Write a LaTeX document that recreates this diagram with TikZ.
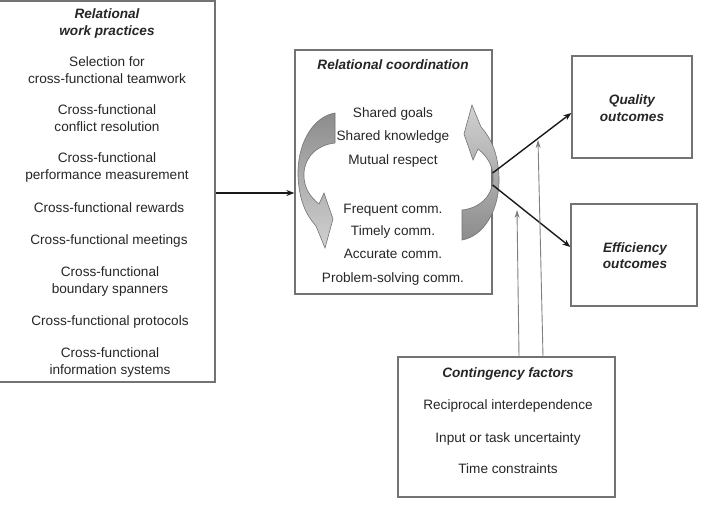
\documentclass[tikz,border=0pt]{standalone}
\usepackage{fontspec}
\setmainfont{Liberation Sans}
\usetikzlibrary{arrows.meta}
\begin{document}
\begin{tikzpicture}[x=1pt,y=-1pt,
  box/.style={draw=black!55, line width=1.3pt, rectangle, inner sep=0pt},
  txt/.style={anchor=base, inner sep=0pt, text=black!85, font=\fontsize{13.6}{17}\selectfont},
  ttl/.style={txt, font=\fontsize{13.6}{17}\selectfont\bfseries\itshape},
  arr/.style={line width=1.4pt, black!90, -{Stealth[length=8pt,width=6pt]}},
  thinarr/.style={line width=0.9pt, black!50, -{Stealth[length=8pt,width=5pt,fill=black!70]}},
  bentarrow/.style={draw=black!55, line width=0.6pt}]
\useasboundingbox (0,0) rectangle (705,512);
% boxes
\node[box, minimum width=222pt, minimum height=381pt] (lw) at (104,191.5) {};
\node[box, minimum width=197pt, minimum height=244pt] (rc) at (393.5,172) {};
\node[box, minimum width=120pt, minimum height=102pt] (qo) at (632,107) {};
\node[box, minimum width=126pt, minimum height=102pt] (eo) at (634,255) {};
\node[box, minimum width=217pt, minimum height=140pt] (cf) at (506.5,427) {};
% left box text
\node[ttl] (l0a) at (107,18) {Relational};
\node[ttl] (l0b) at (107,35) {work practices};
\node[txt] (l1a) at (107,66) {Selection for};
\node[txt] (l1b) at (107,83) {cross-functional teamwork};
\node[txt] (l2a) at (107,114) {Cross-functional};
\node[txt] (l2b) at (107,131) {conflict resolution};
\node[txt] (l3a) at (107,162) {Cross-functional};
\node[txt] (l3b) at (107,179) {performance measurement};
\node[txt] (l4) at (109,212) {Cross-functional rewards};
\node[txt] (l5) at (109,244) {Cross-functional meetings};
\node[txt] (l6a) at (110,276) {Cross-functional};
\node[txt] (l6b) at (110,293) {boundary spanners};
\node[txt] (l7) at (110,325) {Cross-functional protocols};
\node[txt] (l8a) at (110,357) {Cross-functional};
\node[txt] (l8b) at (110,374) {information systems};
% curved arrows
\shade[bentarrow, top color=black!45, bottom color=black!18] (335,113) .. controls (312,117) and (297,145) .. (298,176)
  .. controls (299,200) and (306,215) .. (316,226)
  -- (325,248) -- (333,219) -- (324,193) -- (319,204)
  .. controls (309,196) and (303,186) .. (304,172)
  .. controls (306,155) and (318,145) .. (335,143) -- cycle;
\begin{scope}[rotate around={180:(398.5,176.5)}]
\shade[bentarrow, top color=black!18, bottom color=black!45] (335,113) .. controls (312,117) and (297,145) .. (298,176)
  .. controls (299,200) and (306,215) .. (316,226)
  -- (325,248) -- (333,219) -- (324,193) -- (319,204)
  .. controls (309,196) and (303,186) .. (304,172)
  .. controls (306,155) and (318,145) .. (335,143) -- cycle;
\end{scope}
% center box text
\node[ttl] (c0) at (393,69) {Relational coordination};
\node[txt] (c1) at (393,117) {Shared goals};
\node[txt] (c2) at (393,140) {Shared knowledge};
\node[txt] (c3) at (393,164) {Mutual respect};
\node[txt] (c4) at (393,213) {Frequent comm.};
\node[txt] (c5) at (393,235) {Timely comm.};
\node[txt] (c6) at (393,258) {Accurate comm.};
\node[txt] (c7) at (393,282) {Problem-solving comm.};
% outcomes
\node[ttl] (q1) at (632,104) {Quality};
\node[ttl] (q2) at (632,121) {outcomes};
\node[ttl] (e1) at (635,252) {Efficiency};
\node[ttl] (e2) at (635,268) {outcomes};
% contingency
\node[ttl] (f0) at (508,377) {Contingency factors};
\node[txt] (f1) at (508,409) {Reciprocal interdependence};
\node[txt] (f2) at (508,442) {Input or task uncertainty};
\node[txt] (f3) at (508,473) {Time constraints};
% connectors
\coordinate (hy) at (0,193);
\draw[arr] (lw.east |- hy) -- (rc.west |- hy);
\draw[arr] ([yshift=-1pt]rc.east) -- ([yshift=-6pt]qo.west);
\draw[arr] ([yshift=-13pt]rc.east) -- ([yshift=8pt]eo.west);
\coordinate (m1) at (517,210);
\coordinate (m2) at (538,140);
\draw[thinarr] ([xshift=12.5pt]cf.north) -- (m1);
\draw[thinarr] ([xshift=36.5pt]cf.north) -- (m2);
\end{tikzpicture}
\end{document}
